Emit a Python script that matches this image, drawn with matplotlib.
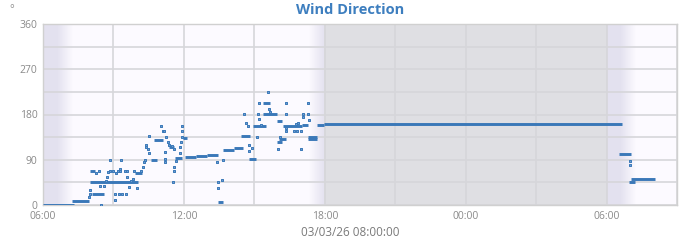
import numpy as np
import pandas as pd
import matplotlib
matplotlib.use("Agg")
import matplotlib.pyplot as plt
import matplotlib.dates as mdates
from matplotlib.colors import to_rgba

plt.rcParams['font.family'] = ['Open Sans', 'DejaVu Sans']

# constant stretches of readings: start, end, degrees
run_start = ["03 06:00", "03 07:13", "03 07:59", "03 08:04", "03 07:59", "03 09:54",
             "03 10:35", "03 10:43", "03 11:22", "03 11:37", "03 11:57", "03 12:02",
             "03 12:30", "03 13:00", "03 13:26", "03 13:39", "03 14:09", "03 14:27",
             "03 14:46", "03 14:56", "03 15:21", "03 15:21", "03 15:57", "03 15:57",
             "03 16:04", "03 16:12", "03 17:03", "03 17:16", "03 17:16", "03 17:39",
             "03 17:59", "04 06:33", "04 06:58", "04 07:03"]
run_end = ["03 07:18", "03 07:57", "03 10:02", "03 08:35", "03 08:12", "03 10:12",
           "03 10:51", "03 11:06", "03 11:35", "03 11:55", "03 12:07", "03 12:30",
           "03 13:00", "03 13:26", "03 13:41", "03 14:09", "03 14:30", "03 14:48",
           "03 15:03", "03 15:31", "03 15:39", "03 15:57", "03 16:10", "03 16:10",
           "03 16:22", "03 17:03", "03 17:18", "03 17:41", "03 17:41", "03 17:59",
           "04 06:40", "04 07:03", "04 07:13", "04 08:04"]
run_deg = [0, 7, 45, 22, 67, 63,
           90, 129, 115, 94, 134, 95,
           97, 99, 6, 109, 113, 137,
           91, 157, 202, 181, 167, 125,
           132, 157, 160, 135, 132, 160,
           162, 102, 46, 51]

# single readings
pt_time = ["03 07:57", "03 07:59", "03 08:01", "03 08:16", "03 08:23", "03 08:29",
           "03 08:25", "03 08:37", "03 08:42", "03 08:43", "03 08:46", "03 08:50",
           "03 08:50", "03 08:59", "03 09:03", "03 09:03", "03 09:13", "03 09:23",
           "03 09:33", "03 09:06", "03 09:11", "03 09:16", "03 09:16", "03 09:20",
           "03 09:29", "03 09:34", "03 09:34", "03 09:41", "03 09:46", "03 09:50",
           "03 09:52", "03 10:00", "03 10:11", "03 10:15", "03 10:17", "03 10:20",
           "03 10:22", "03 10:24", "03 10:28", "03 10:31", "03 10:31", "03 11:02",
           "03 11:06", "03 11:08", "03 11:11", "03 11:11", "03 11:11", "03 11:15",
           "03 11:19", "03 11:23", "03 11:30", "03 11:34", "03 11:32", "03 11:36",
           "03 11:36", "03 11:39", "03 11:49", "03 11:51", "03 11:53", "03 11:56",
           "03 11:56", "03 11:56", "03 13:25", "03 13:27", "03 13:28", "03 13:38",
           "03 13:40", "03 14:33", "03 14:39", "03 14:43", "03 14:46", "03 14:46",
           "03 14:54", "03 15:06", "03 15:09", "03 15:11", "03 15:11", "03 15:17",
           "03 15:34", "03 15:37", "03 15:40", "03 16:00", "03 16:06", "03 16:20",
           "03 16:21", "03 16:20", "03 16:21", "03 16:42", "03 16:48", "03 16:47",
           "03 16:51", "03 17:00", "03 17:00", "03 17:04", "03 17:05", "03 17:17",
           "03 17:17", "03 17:19", "04 07:00", "04 07:00"]
pt_deg = [15, 22, 29, 63, 68, 0,
          37, 38, 48, 56, 65, 67,
          90, 67, 9, 22, 22, 22,
          22, 63, 67, 67, 72, 90,
          67, 67, 55, 35, 48, 51,
          67, 34, 67, 75, 85, 90,
          115, 120, 112, 137, 103, 157,
          147, 147, 105, 91, 85, 136,
          126, 120, 117, 112, 45, 67,
          76, 87, 103, 115, 126, 136,
          147, 157, 85, 45, 34, 50,
          90, 181, 163, 157, 120, 107,
          113, 135, 181, 202, 171, 160,
          225, 191, 184, 112, 135, 181,
          202, 147, 153, 147, 147, 162,
          164, 147, 112, 181, 176, 202,
          181, 170, 87, 79]

# sky shading: dusk fades in before 18:00, dawn fades out after 06:35
dusk_start, dusk_end = "03 17:20", "03 17:59"
dawn_end, dawn_fade = "04 06:00", "04 06:35"
first_dawn, first_fade, first_day = "03 06:00", "03 06:35", "03 07:15"
last_fade_end = "04 07:15"

def t(s):
    return pd.Timestamp("2026-03-" + s)

day_c = '#fcfaff'
twi_c = '#e3e1ef'
night_c = '#dfdfe3'
blue = '#3a78b8'

fig = plt.figure(figsize=(7, 2.4), dpi=100)
ax = fig.add_axes([43 / 700, 1 - 205 / 240, 634 / 700, 181 / 240])
ax.set_facecolor(day_c)

def fade(a, b, c0, c1):
    x0, x1 = mdates.date2num(t(a)), mdates.date2num(t(b))
    g = np.linspace(0, 1, 64)[:, None]
    img = (1 - g) * np.array(to_rgba(c0)) + g * np.array(to_rgba(c1))
    ax.imshow(img[None, :, :], extent=(x0, x1, 0, 360), aspect='auto',
              zorder=0.1, interpolation='bilinear')

ax.axvspan(t(first_dawn), t(first_fade), color=twi_c, lw=0, zorder=0.1)
fade(first_fade, first_day, twi_c, day_c)
fade(dusk_start, dusk_end, day_c, twi_c)
ax.axvspan(t(dusk_end), t(dawn_end), color=night_c, lw=0, zorder=0.1)
ax.axvspan(t(dawn_end), t(dawn_fade), color=twi_c, lw=0, zorder=0.1)
fade(dawn_fade, last_fade_end, twi_c, day_c)

ax.hlines(run_deg, [t(s) for s in run_start], [t(s) for s in run_end],
          color=blue, lw=2.1, zorder=3)
ax.scatter([t(s) for s in pt_time], pt_deg, marker='s', s=4.5,
           facecolor='#6f9fd3', edgecolor=blue, linewidth=0.7, zorder=4)

ax.set_xlim(t("03 06:00"), t("04 09:00"))
ax.set_ylim(0, 360)
ax.xaxis.set_major_locator(mdates.HourLocator(byhour=[0, 6, 12, 18]))
ax.xaxis.set_minor_locator(mdates.HourLocator(byhour=[3, 9, 15, 21]))
ax.xaxis.set_major_formatter(mdates.DateFormatter('%H:%M'))
ax.set_yticks([0, 90, 180, 270, 360])
ax.set_yticks([45, 135, 225, 315], minor=True)
ax.set_axisbelow(True)
ax.grid(True, which='both', color='#d6d6da', lw=1.2, zorder=0.5)
ax.tick_params(which='both', length=0, labelsize=7.5, labelcolor='#8a8a8a', pad=4)
for sp in ax.spines.values():
    sp.set_color('#d0d0d0')
    sp.set_linewidth(1)

fig.text(0.5, 1 - 10 / 240, 'Wind Direction', ha='center', va='center',
         fontsize=10.5, fontweight='bold', color='#3d7ebf')
fig.text(0.5, 1 - 233 / 240, '03/03/26 08:00:00', ha='center', va='center',
         fontsize=8.5, color='#7a7a7a')
fig.text(12 / 700, 1 - 10 / 240, '°', ha='center', va='center',
         fontsize=8, color='#8a8a8a')

fig.savefig('out.png', dpi=100)
